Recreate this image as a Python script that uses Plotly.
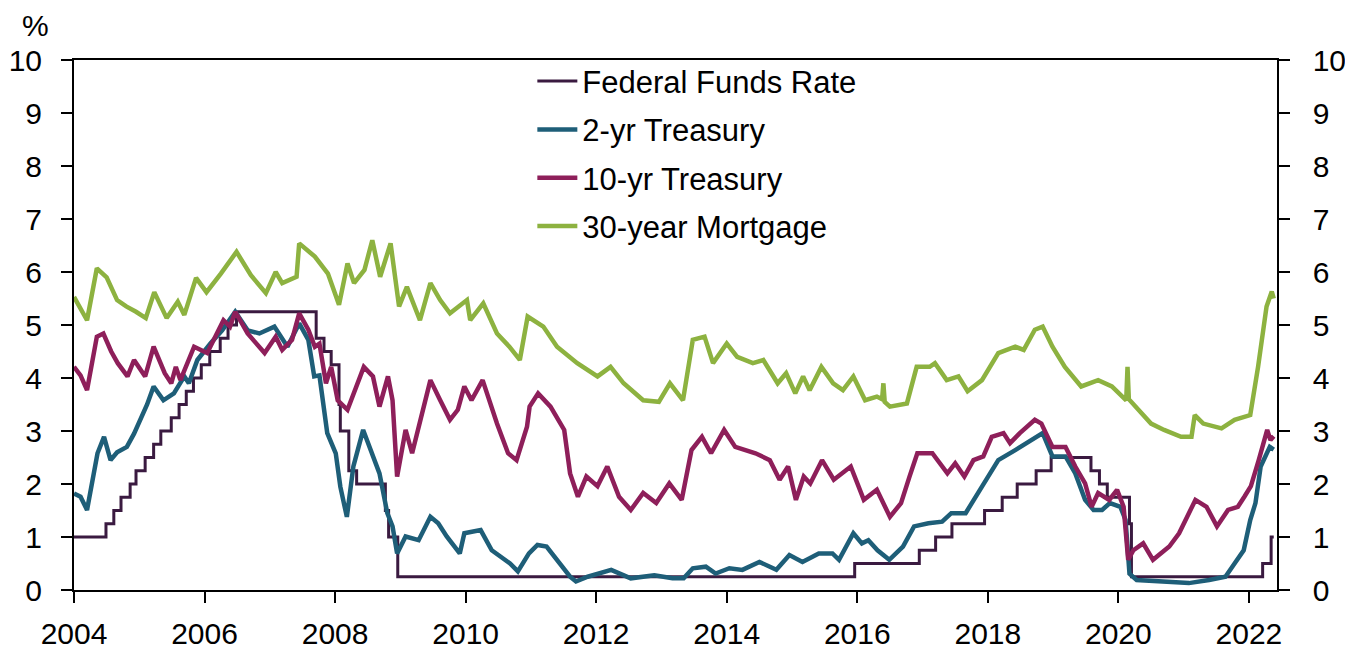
import plotly.graph_objects as go

# ---------------- data ----------------
ff_t = [2004.00, 2004.49, 2004.61, 2004.72, 2004.86, 2004.95, 2005.09, 2005.22, 2005.33, 2005.49,
        2005.61, 2005.72, 2005.83, 2005.95, 2006.08, 2006.24, 2006.36, 2006.49, 2007.71, 2007.83,
        2007.94, 2008.06, 2008.08, 2008.21, 2008.33, 2008.77, 2008.82, 2008.96, 2015.96, 2016.95,
        2017.20, 2017.45, 2017.95, 2018.22, 2018.45, 2018.74, 2018.97, 2019.58, 2019.71, 2019.83,
        2020.17, 2020.20, 2022.21, 2022.34, 2022.38]
ff_v = [1.00, 1.25, 1.50, 1.75, 2.00, 2.25, 2.50, 2.75, 3.00, 3.25,
        3.50, 3.75, 4.00, 4.25, 4.50, 4.75, 5.00, 5.25, 4.75, 4.50,
        4.25, 3.50, 3.00, 2.25, 2.00, 1.50, 1.00, 0.25, 0.50, 0.75,
        1.00, 1.25, 1.50, 1.75, 2.00, 2.25, 2.50, 2.25, 2.00, 1.75,
        1.25, 0.25, 0.50, 1.00, 1.00]

t2_t = [2004.00, 2004.10, 2004.20, 2004.36, 2004.46, 2004.56, 2004.66, 2004.81, 2004.92, 2005.02,
        2005.12, 2005.22, 2005.37, 2005.53, 2005.69, 2005.76, 2005.89, 2006.09, 2006.27, 2006.47,
        2006.66, 2006.84, 2007.07, 2007.27, 2007.45, 2007.59, 2007.68, 2007.76, 2007.88, 2008.01,
        2008.08, 2008.18, 2008.28, 2008.43, 2008.53, 2008.68, 2008.80, 2008.88, 2008.95, 2009.08,
        2009.28, 2009.46, 2009.58, 2009.71, 2009.91, 2009.98, 2010.23, 2010.40, 2010.68, 2010.80,
        2010.97, 2011.10, 2011.24, 2011.45, 2011.60, 2011.69, 2011.87, 2012.23, 2012.53, 2012.89,
        2013.17, 2013.34, 2013.48, 2013.68, 2013.83, 2014.04, 2014.24, 2014.50, 2014.76, 2014.96,
        2015.16, 2015.41, 2015.62, 2015.72, 2015.94, 2016.07, 2016.17, 2016.31, 2016.49, 2016.70,
        2016.87, 2017.09, 2017.30, 2017.44, 2017.66, 2017.91, 2018.16, 2018.42, 2018.68, 2018.84,
        2018.99, 2019.19, 2019.34, 2019.49, 2019.62, 2019.75, 2019.87, 2020.03, 2020.11, 2020.17,
        2020.28, 2020.68, 2021.08, 2021.39, 2021.64, 2021.78, 2021.92, 2022.02, 2022.10, 2022.18,
        2022.32, 2022.38]
t2_v = [1.82, 1.76, 1.51, 2.58, 2.89, 2.45, 2.60, 2.70, 2.95, 3.21,
        3.50, 3.84, 3.58, 3.71, 4.03, 3.90, 4.34, 4.65, 4.90, 5.25,
        4.90, 4.84, 4.97, 4.59, 5.03, 4.72, 4.03, 4.05, 2.96, 2.58,
        1.95, 1.38, 2.33, 3.02, 2.70, 2.20, 1.45, 1.20, 0.69, 1.01,
        0.94, 1.38, 1.26, 1.01, 0.69, 1.07, 1.13, 0.75, 0.50, 0.35,
        0.69, 0.85, 0.82, 0.50, 0.25, 0.16, 0.25, 0.38, 0.22, 0.28,
        0.22, 0.22, 0.41, 0.44, 0.31, 0.41, 0.38, 0.53, 0.38, 0.66,
        0.53, 0.69, 0.69, 0.57, 1.07, 0.88, 0.94, 0.75, 0.57, 0.82,
        1.20, 1.26, 1.29, 1.45, 1.45, 1.95, 2.45, 2.64, 2.83, 2.96,
        2.52, 2.52, 2.20, 1.70, 1.51, 1.51, 1.64, 1.57, 1.32, 0.31,
        0.19, 0.16, 0.13, 0.19, 0.25, 0.50, 0.75, 1.32, 1.64, 2.33,
        2.70, 2.65]

t10_t = [2004.00, 2004.10, 2004.20, 2004.35, 2004.45, 2004.57, 2004.67, 2004.82, 2004.92, 2005.09,
         2005.22, 2005.39, 2005.49, 2005.56, 2005.63, 2005.84, 2006.04, 2006.29, 2006.39, 2006.47,
         2006.66, 2006.92, 2007.09, 2007.19, 2007.34, 2007.45, 2007.59, 2007.69, 2007.76, 2007.86,
         2007.94, 2008.04, 2008.19, 2008.34, 2008.44, 2008.58, 2008.68, 2008.81, 2008.88, 2008.95,
         2009.08, 2009.18, 2009.28, 2009.46, 2009.61, 2009.76, 2009.88, 2009.98, 2010.09, 2010.26,
         2010.48, 2010.65, 2010.78, 2010.94, 2010.98, 2011.11, 2011.30, 2011.51, 2011.60, 2011.72,
         2011.85, 2012.02, 2012.17, 2012.35, 2012.53, 2012.72, 2012.92, 2013.12, 2013.31, 2013.46,
         2013.62, 2013.76, 2013.96, 2014.13, 2014.44, 2014.66, 2014.81, 2014.94, 2015.06, 2015.18,
         2015.28, 2015.46, 2015.64, 2015.90, 2016.10, 2016.30, 2016.50, 2016.67, 2016.80, 2016.92,
         2017.15, 2017.38, 2017.50, 2017.64, 2017.78, 2017.93, 2018.06, 2018.24, 2018.34, 2018.49,
         2018.72, 2018.82, 2018.99, 2019.19, 2019.34, 2019.49, 2019.59, 2019.69, 2019.86, 2019.98,
         2020.08, 2020.15, 2020.23, 2020.38, 2020.53, 2020.78, 2020.93, 2021.08, 2021.18, 2021.35,
         2021.51, 2021.68, 2021.83, 2021.93, 2022.03, 2022.15, 2022.28, 2022.33, 2022.38]
t10_v = [4.21, 4.05, 3.77, 4.78, 4.84, 4.50, 4.28, 4.03, 4.34, 4.03,
         4.59, 4.09, 3.90, 4.21, 3.96, 4.59, 4.47, 5.09, 4.97, 5.25,
         4.84, 4.47, 4.78, 4.53, 4.72, 5.22, 4.91, 4.59, 4.65, 3.90,
         4.21, 3.58, 3.40, 3.90, 4.21, 4.03, 3.46, 4.03, 3.58, 2.14,
         3.02, 2.58, 3.08, 3.96, 3.58, 3.21, 3.40, 3.84, 3.58, 3.96,
         3.14, 2.58, 2.45, 3.08, 3.46, 3.71, 3.46, 3.02, 2.20, 1.76,
         2.14, 1.96, 2.33, 1.76, 1.51, 1.83, 1.64, 2.01, 1.70, 2.64,
         2.89, 2.58, 3.02, 2.70, 2.58, 2.45, 2.08, 2.33, 1.70, 2.14,
         2.01, 2.45, 2.08, 2.33, 1.70, 1.89, 1.38, 1.64, 2.14, 2.58,
         2.58, 2.20, 2.39, 2.14, 2.45, 2.52, 2.89, 2.96, 2.77, 2.96,
         3.21, 3.14, 2.70, 2.70, 2.33, 2.01, 1.57, 1.83, 1.70, 1.89,
         1.57, 0.57, 0.75, 0.88, 0.57, 0.82, 1.07, 1.45, 1.70, 1.57,
         1.20, 1.51, 1.57, 1.76, 1.96, 2.45, 3.02, 2.83, 2.90]

mtg_t = [2004.00, 2004.20, 2004.35, 2004.50, 2004.66, 2004.80, 2004.95, 2005.10, 2005.23, 2005.42,
         2005.59, 2005.69, 2005.87, 2006.03, 2006.25, 2006.49, 2006.71, 2006.94, 2007.09, 2007.19,
         2007.41, 2007.45, 2007.69, 2007.89, 2008.06, 2008.19, 2008.29, 2008.45, 2008.57, 2008.69,
         2008.85, 2008.98, 2009.10, 2009.30, 2009.46, 2009.61, 2009.76, 2010.02, 2010.07, 2010.27,
         2010.48, 2010.67, 2010.83, 2010.95, 2011.19, 2011.40, 2011.71, 2012.02, 2012.22, 2012.42,
         2012.72, 2012.96, 2013.13, 2013.33, 2013.48, 2013.66, 2013.79, 2014.00, 2014.16, 2014.40,
         2014.56, 2014.78, 2014.91, 2015.05, 2015.17, 2015.27, 2015.45, 2015.63, 2015.78, 2015.94,
         2016.12, 2016.30, 2016.38, 2016.40, 2016.42, 2016.50, 2016.76, 2016.91, 2017.11, 2017.19,
         2017.37, 2017.55, 2017.69, 2017.91, 2018.16, 2018.42, 2018.55, 2018.72, 2018.84, 2018.99,
         2019.18, 2019.43, 2019.69, 2019.90, 2020.12, 2020.14, 2020.16, 2020.50, 2020.70, 2020.96,
         2021.12, 2021.17, 2021.30, 2021.58, 2021.78, 2021.98, 2022.02, 2022.14, 2022.27, 2022.35,
         2022.38]
mtg_v = [5.53, 5.09, 6.07, 5.90, 5.47, 5.35, 5.25, 5.13, 5.62, 5.13,
         5.44, 5.19, 5.89, 5.62, 5.97, 6.38, 5.94, 5.60, 6.00, 5.79,
         5.91, 6.54, 6.29, 5.97, 5.38, 6.16, 5.79, 6.04, 6.60, 5.91,
         6.54, 5.35, 5.72, 5.09, 5.79, 5.47, 5.22, 5.47, 5.09, 5.41,
         4.84, 4.59, 4.34, 5.16, 4.97, 4.59, 4.28, 4.03, 4.21, 3.90,
         3.58, 3.55, 3.90, 3.58, 4.72, 4.78, 4.28, 4.65, 4.40, 4.28,
         4.34, 3.90, 4.09, 3.71, 4.03, 3.77, 4.21, 3.90, 3.77, 4.03,
         3.58, 3.65, 3.60, 3.90, 3.55, 3.46, 3.52, 4.21, 4.21, 4.28,
         3.96, 4.03, 3.75, 3.96, 4.47, 4.59, 4.53, 4.91, 4.97, 4.59,
         4.21, 3.84, 3.96, 3.84, 3.58, 4.21, 3.60, 3.14, 3.02, 2.89,
         2.89, 3.30, 3.14, 3.05, 3.21, 3.27, 3.30, 4.21, 5.35, 5.63,
         5.50]

series_names = ["Federal Funds Rate", "2-yr Treasury", "10-yr Treasury", "30-year Mortgage"]
series_colors = ["#3a1a40", "#1e5e78", "#8e1f5a", "#8db240"]
y_ticks = list(range(0, 11))
x_ticks = list(range(2004, 2023, 2))

FONT = "Liberation Sans, Arial, sans-serif"
FS_TICK = 30
FS_LEG = 31
NB = "\u00a0"

fig = go.Figure()
fig.add_trace(go.Scatter(x=ff_t, y=ff_v, mode="lines", line_shape="hv", name=series_names[0],
                         legendgroup="a", line=dict(color=series_colors[0], width=3)))
fig.add_trace(go.Scatter(x=t2_t, y=t2_v, mode="lines", name=series_names[1], legendgroup="b",
                         line=dict(color=series_colors[1], width=4.5)))
fig.add_trace(go.Scatter(x=t10_t, y=t10_v, mode="lines", name=series_names[2], legendgroup="c",
                         line=dict(color=series_colors[2], width=4.5)))
fig.add_trace(go.Scatter(x=mtg_t, y=mtg_v, mode="lines", name=series_names[3], legendgroup="d",
                         line=dict(color=series_colors[3], width=4.5)))
# right-hand axis carries the same scale
fig.add_trace(go.Scatter(x=[2004], y=[0], yaxis="y2", mode="lines", showlegend=False,
                         hoverinfo="skip", line=dict(width=0)))

axis_common = dict(showgrid=False, zeroline=False, showline=True, linecolor="black", linewidth=2,
                   ticks="outside", ticklen=11, tickwidth=2, tickcolor="black", automargin=False,
                   tickfont=dict(family=FONT, size=FS_TICK, color="black"))

# the page body adds an 8 px offset, so the figure is 8 px smaller on each side
fig.update_layout(
    width=1345, height=644,
    margin=dict(l=66, r=76, t=52, b=62, autoexpand=False),
    paper_bgcolor="white", plot_bgcolor="white",
    font=dict(family=FONT, size=FS_TICK, color="black"),
    xaxis=dict(range=[2004, 2022.43], tickmode="array", tickvals=x_ticks,
               ticktext=[str(v) for v in x_ticks], mirror=True, ticklabelstandoff=5,
               **axis_common),
    yaxis=dict(range=[0, 10], tickmode="array", tickvals=y_ticks, ticklabelstandoff=13,
               **axis_common),
    yaxis2=dict(range=[0, 10], overlaying="y", side="right", tickmode="array", tickvals=y_ticks,
                ticktext=[NB + NB + str(v) for v in y_ticks], **axis_common),
    showlegend=True,
    legend=dict(x=0.381, y=1.0105, xanchor="left", yanchor="top", bgcolor="rgba(0,0,0,0)",
                font=dict(family=FONT, size=FS_LEG, color="black"), tracegroupgap=5,
                itemwidth=40),
    annotations=[dict(text="%", xref="paper", yref="paper", x=-0.032, y=1.065,
                      xanchor="center", yanchor="middle", showarrow=False,
                      font=dict(family=FONT, size=FS_TICK, color="black"))],
)

fig.write_html("out.html")
